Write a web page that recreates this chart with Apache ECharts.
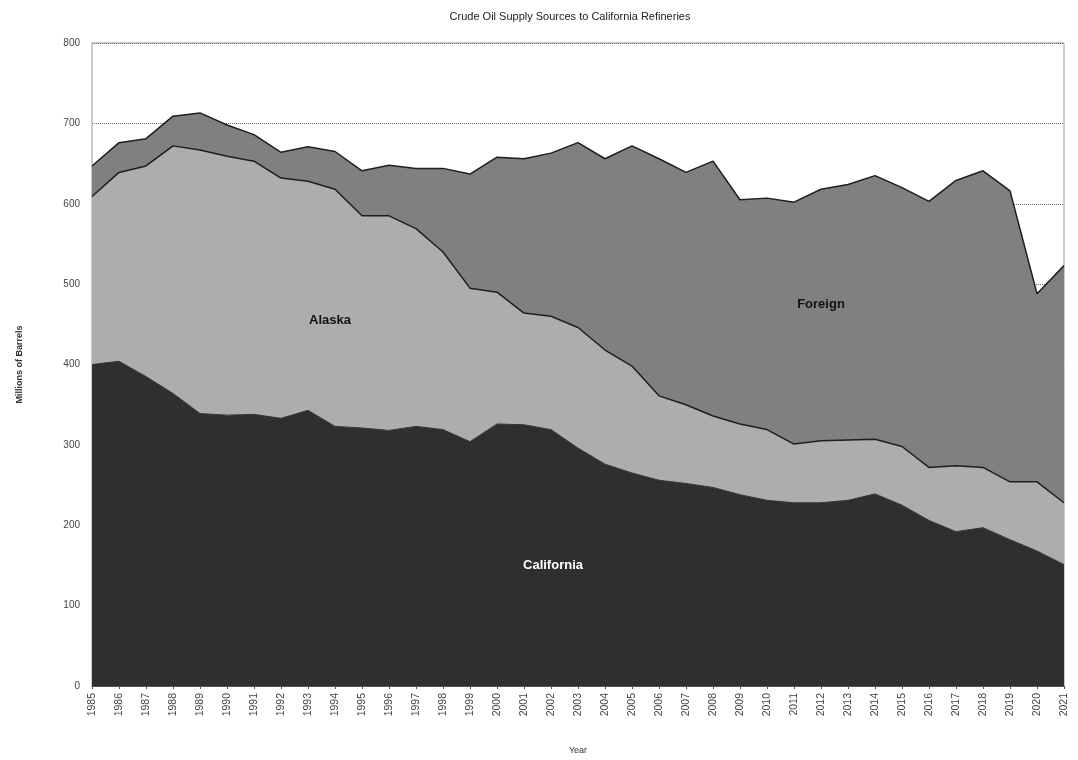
<!DOCTYPE html>
<html>
<head>
<meta charset="utf-8">
<script src="https://cdn.jsdelivr.net/npm/echarts@6/dist/echarts.min.js"></script>
<style>
  html, body { margin: 0; padding: 0; background: #fff; }
  #chart { width: 1078px; height: 760px; }
</style>
</head>
<body>
<div id="chart"></div>
<script>
// values, millions of barrels
var years = [];
for (var y = 1985; y <= 2021; y++) years.push(String(y));

var california = [400, 404, 385, 364, 339, 337, 338, 333, 343, 323, 321, 318, 323, 319, 304, 326, 325, 319, 296, 276,
  265, 256, 252, 247, 238, 231, 228, 228, 231, 239, 225, 206, 192, 197, 182, 168, 151];
var alaska = [209, 235, 262, 308, 328, 322, 315, 299, 285, 295, 264, 267, 246, 221, 191, 164, 139, 141, 150, 142,
  133, 105, 98, 89, 88, 88, 73, 77, 75, 68, 73, 66, 82, 75, 72, 86, 77];
var foreign = [38, 37, 34, 37, 46, 39, 33, 32, 43, 47, 56, 63, 75, 104, 142, 168, 192, 203, 230, 238,
  274, 295, 289, 317, 279, 288, 301, 313, 318, 328, 322, 331, 355, 369, 362, 234, 295];

var chart = echarts.init(document.getElementById('chart'));

function areaSeries(name, data, color, lineColor, lineWidth) {
  return {
    name: name,
    type: 'line',
    stack: 'total',
    data: data,
    symbol: 'none',
    lineStyle: { color: lineColor, width: lineWidth },
    areaStyle: { color: color, opacity: 1 },
    itemStyle: { color: color },
    emphasis: { disabled: true }
  };
}

function areaLabel(text, x, y, fill) {
  return {
    type: 'text',
    x: x,
    y: y,
    z: 100,
    style: {
      text: text,
      fontFamily: 'Liberation Sans',
      fontSize: 13,
      fontWeight: 'bold',
      fill: fill,
      align: 'center',
      verticalAlign: 'middle'
    }
  };
}

chart.setOption({
  animation: false,
  title: {
    text: 'Crude Oil Supply Sources to California Refineries',
    left: 565,
    top: 6,
    textAlign: 'center',
    textStyle: { fontFamily: 'Liberation Sans', fontSize: 11, fontWeight: 'normal', color: '#222' }
  },
  grid: { left: 92, right: 14, top: 43, bottom: 70, show: true, borderColor: '#999', borderWidth: 1 },
  xAxis: {
    type: 'category',
    data: years,
    boundaryGap: false,
    name: 'Year',
    nameLocation: 'middle',
    nameGap: 60,
    nameTextStyle: { fontFamily: 'Liberation Sans', fontSize: 9, color: '#333' },
    axisLine: { lineStyle: { color: '#555' } },
    axisTick: { show: true, length: 3, lineStyle: { color: '#555' } },
    axisLabel: {
      rotate: 90,
      interval: 0,
      fontFamily: 'Liberation Sans',
      fontSize: 10.5,
      color: '#444',
      margin: 7
    },
    splitLine: { show: false }
  },
  yAxis: {
    type: 'value',
    min: 0,
    max: 800,
    interval: 100,
    name: 'Millions of Barrels',
    nameLocation: 'middle',
    nameGap: 68,
    nameTextStyle: { fontFamily: 'Liberation Sans', fontSize: 9, fontWeight: 'bold', color: '#333' },
    axisLine: { show: false },
    axisTick: { show: false },
    axisLabel: {
      fontFamily: 'Liberation Sans',
      fontSize: 10,
      color: '#444',
      margin: 12
    },
    splitLine: { show: true, lineStyle: { color: '#666', type: 'dotted', width: 1 } }
  },
  series: [
    areaSeries('California', california, '#2f2f2f', '#2f2f2f', 1),
    areaSeries('Alaska', alaska, '#adadad', '#1e1e1e', 1.5),
    areaSeries('Foreign', foreign, '#808080', '#1e1e1e', 1.5)
  ],
  graphic: [
    areaLabel('Alaska', 330, 320, '#111'),
    areaLabel('Foreign', 821, 304, '#111'),
    areaLabel('California', 553, 565, '#fff')
  ]
});
</script>
</body>
</html>
